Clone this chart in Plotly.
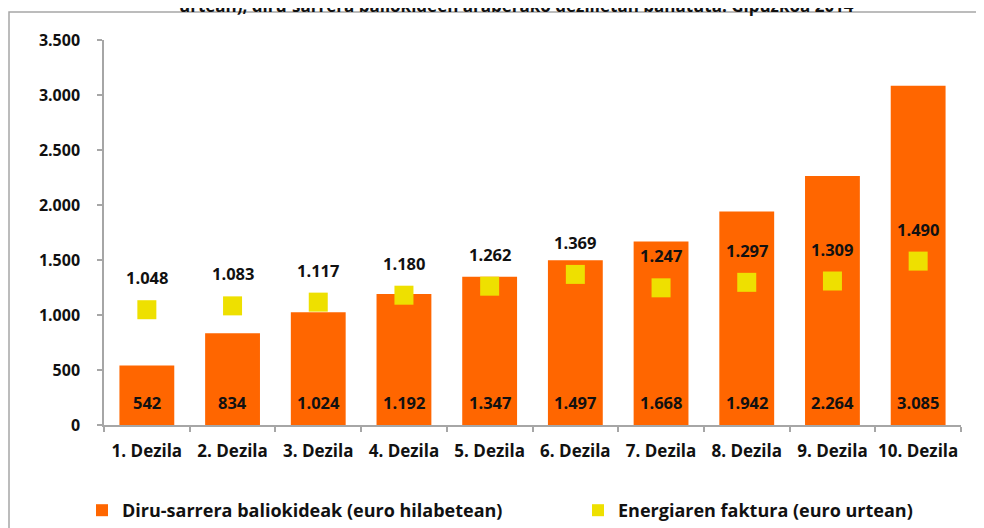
import plotly.graph_objects as go

categories = ["1. Dezila", "2. Dezila", "3. Dezila", "4. Dezila", "5. Dezila",
              "6. Dezila", "7. Dezila", "8. Dezila", "9. Dezila", "10. Dezila"]
income = [542, 834, 1024, 1192, 1347, 1497, 1668, 1942, 2264, 3085]
energy = [1048, 1083, 1117, 1180, 1262, 1369, 1247, 1297, 1309, 1490]

income_name = "Diru-sarrera baliokideak (euro hilabetean)"
energy_name = "Energiaren faktura (euro urtean)"
title_text = "urtean), diru-sarrera baliokideen araberako dezilietan banatuta. Gipuzkoa 2014"

FONT = "Open Sans"
W, H = 984, 528
OFF = 8  # page body margin offset
# desired page positions of plot area: left 104, right 961, top 40, bottom 425
ml, mt = 104 - OFF, 40 - OFF
mr, mb = W - (961 - OFF), H - (425 - OFF)
pw, ph = W - ml - mr, H - mt - mb

def px_x(p):  # page pixel -> paper x
    return (p - OFF - ml) / pw

def px_y(p):  # page pixel -> paper y
    return (H - mb - (p - OFF)) / ph

def fmt(v):
    return f"{v:,}".replace(",", ".")

fig = go.Figure()
fig.add_trace(go.Bar(
    x=categories, y=income, name=income_name, legend="legend",
    marker=dict(color="#FF6600", line=dict(width=0)),
))
fig.add_trace(go.Scatter(
    x=categories, y=energy, name=energy_name, mode="markers", legend="legend2",
    marker=dict(symbol="square", size=19, color="#EEE000"),
    cliponaxis=False,
))

label_font = dict(family=FONT, size=16.5, color="#111111", weight="bold")
for c, v in zip(categories, income):
    fig.add_annotation(x=c, y=0, text=fmt(v), showarrow=False, yanchor="middle",
                       yshift=23, font=label_font)
for c, v in zip(categories, energy):
    fig.add_annotation(x=c, y=v, text=fmt(v), showarrow=False, yanchor="middle",
                       yshift=32, font=label_font)

# title (partially cut at the top edge, as in the reference)
fig.add_annotation(xref="paper", yref="paper", x=px_x(516), y=px_y(5),
                   text=title_text, showarrow=False, xanchor="center", yanchor="middle",
                   font=dict(family=FONT, size=17, color="#111111", weight="bold"))

fig.add_shape(type="rect", xref="paper", yref="paper",
              x0=px_x(9), x1=px_x(1010),
              y0=px_y(560), y1=px_y(12),
              line=dict(color="#A6A6A6", width=1.5), layer="below")

legend_common = dict(orientation="h", xanchor="left", yanchor="top",
                     y=px_y(492),
                     font=dict(family=FONT, size=18, color="#111111", weight="bold"),
                     itemsizing="constant", bgcolor="rgba(0,0,0,0)")

fig.update_layout(
    width=W, height=H,
    margin=dict(l=ml, r=mr, t=mt, b=mb, autoexpand=False),
    paper_bgcolor="white", plot_bgcolor="white",
    separators=",.",
    bargap=0.36,
    legend=dict(x=px_x(82), **legend_common),
    legend2=dict(x=px_x(578), **legend_common),
    showlegend=True,
)
fig.update_xaxes(
    range=[-0.5, len(categories) - 0.5],
    showline=True, linecolor="#A6A6A6", linewidth=1.5,
    ticks="outside", tickson="boundaries", ticklen=5, tickcolor="#A6A6A6", tickwidth=1.5,
    tickfont=dict(family=FONT, size=17, color="#111111", weight="bold"),
    tickangle=0,
    showgrid=False, zeroline=False, ticklabelstandoff=10,
)
fig.update_yaxes(
    range=[0, 3500], dtick=500, tickformat=",",
    showline=True, linecolor="#A6A6A6", linewidth=1.5,
    ticks="outside", ticklen=5, tickcolor="#A6A6A6", tickwidth=1.5,
    tickfont=dict(family=FONT, size=16, color="#111111", weight="bold"),
    showgrid=False, zeroline=False, ticklabelstandoff=14,
)

fig.write_html("out.html")
